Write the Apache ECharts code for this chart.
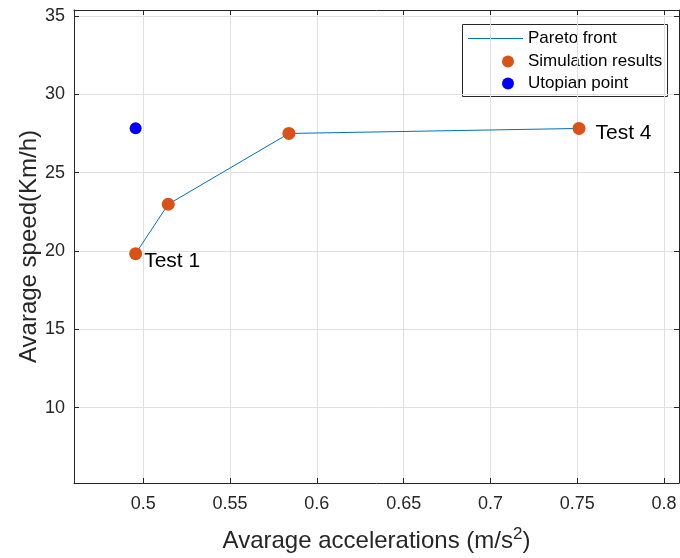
<!DOCTYPE html>
<html>
<head>
<meta charset="utf-8">
<script src="https://cdn.jsdelivr.net/npm/echarts@6/dist/echarts.min.js"></script>
<style>
  html, body { margin: 0; padding: 0; background: #fff; }
  #chart { width: 680px; height: 558px; }
</style>
</head>
<body>
<div id="chart"></div>
<script>
// Pareto front of the test runs: average acceleration vs average speed
const accel = [0.4956, 0.5144, 0.5839, 0.7510];
const speed = [19.83, 22.98, 27.50, 27.82];
const pointLabels = ['Test 1', '', '', 'Test 4'];
const utopian = [0.4956, 27.84];

const xTicks = [0.5, 0.55, 0.6, 0.65, 0.7, 0.75, 0.8];
const yTicks = [10, 15, 20, 25, 30, 35];

const seriesNames = ['Pareto front', 'Simulation results', 'Utopian point'];

const FONT = 'Liberation Sans, Arial, Helvetica, sans-serif';
const AXIS_COLOR = '#262626';
const GRID_COLOR = '#e0e0e0';

// label placement for the annotated points (keyed by point index)
const labelPlacement = {
  0: { distance: 2, offset: [0, 8] },
  3: { distance: 10, offset: [0, 5] }
};

const pts = accel.map((a, i) => [a, speed[i]]);

const scatterData = pts.map((p, i) => {
  const item = { value: p };
  if (pointLabels[i]) {
    item.label = Object.assign({
      show: true,
      position: 'right',
      formatter: pointLabels[i],
      color: '#000',
      fontSize: 21,
      fontFamily: FONT
    }, labelPlacement[i]);
  }
  return item;
});

function mainAxis(ticks, extra) {
  return Object.assign({
    type: 'value',
    axisLine: { show: true, onZero: false, lineStyle: { color: AXIS_COLOR, width: 1 } },
    axisTick: { show: true, inside: true, length: 5, customValues: ticks, lineStyle: { color: AXIS_COLOR } },
    axisLabel: { customValues: ticks, color: AXIS_COLOR, fontSize: 18, fontFamily: FONT },
    splitLine: { show: true, lineStyle: { color: GRID_COLOR, width: 1 } }
  }, extra);
}

function boxAxis(ticks, extra) {
  return Object.assign({
    type: 'value',
    axisLine: { show: true, onZero: false, lineStyle: { color: AXIS_COLOR, width: 1 } },
    axisTick: { show: true, inside: true, length: 5, customValues: ticks, lineStyle: { color: AXIS_COLOR } },
    axisLabel: { show: false, customValues: ticks },
    splitLine: { show: false }
  }, extra);
}

const xMin = 0.4601, xMax = 0.8086;
const yMin = 5.19, yMax = 35.38;

const chart = echarts.init(document.getElementById('chart'), null, { renderer: 'canvas' });

chart.setOption({
  animation: false,
  backgroundColor: '#fff',
  grid: { left: 74, right: 1, top: 10, bottom: 75, containLabel: false, outerBoundsMode: 'none' },
  xAxis: [
    mainAxis(xTicks, {
      position: 'bottom', min: xMin, max: xMax,
      axisLabel: { customValues: xTicks, color: AXIS_COLOR, fontSize: 18, fontFamily: FONT, margin: 12 },
      name: 'Avarage accelerations (m/s{sup|2})',
      nameLocation: 'middle',
      nameGap: 43,
      nameMoveOverlap: false,
      nameTextStyle: {
        color: AXIS_COLOR, fontSize: 24, fontFamily: FONT, lineHeight: 30,
        verticalAlign: 'top',
        rich: {
          sup: { fontSize: 17, fontFamily: FONT, color: AXIS_COLOR, verticalAlign: 'top', lineHeight: 30 }
        }
      }
    }),
    boxAxis(xTicks, { position: 'top', min: xMin, max: xMax })
  ],
  yAxis: [
    mainAxis(yTicks, {
      position: 'left', min: yMin, max: yMax,
      axisLabel: { customValues: yTicks, color: AXIS_COLOR, fontSize: 18, fontFamily: FONT, margin: 9 },
      name: 'Avarage speed(Km/h)',
      nameLocation: 'middle',
      nameGap: 33,
      nameMoveOverlap: false,
      nameTextStyle: { color: AXIS_COLOR, fontSize: 24, fontFamily: FONT }
    }),
    boxAxis(yTicks, { position: 'right', min: yMin, max: yMax })
  ],
  series: [
    {
      name: seriesNames[0],
      type: 'line',
      data: pts,
      showSymbol: false,
      lineStyle: { color: '#0072BD', width: 1 },
      itemStyle: { color: '#0072BD' },
      z: 2
    },
    {
      name: seriesNames[1],
      type: 'scatter',
      data: scatterData,
      symbol: 'circle',
      symbolSize: 13,
      itemStyle: { color: '#D95319', opacity: 1 },
      z: 3
    },
    {
      name: seriesNames[2],
      type: 'scatter',
      data: [utopian],
      symbol: 'circle',
      symbolSize: 12,
      itemStyle: { color: '#0000FF', opacity: 1 },
      z: 3
    }
  ],
  graphic: [
    {
      type: 'group',
      left: 462,
      top: 24,
      z: 100,
      children: [
        { type: 'rect', shape: { x: 0.5, y: 0.5, width: 205, height: 72 },
          style: { fill: '#fff', stroke: AXIS_COLOR, lineWidth: 1 } },
        { type: 'line', shape: { x1: 6, y1: 14.5, x2: 61, y2: 14.5 },
          style: { stroke: '#0072BD', lineWidth: 1 } },
        { type: 'circle', shape: { cx: 46, cy: 37.5, r: 6 }, style: { fill: '#D95319' } },
        { type: 'circle', shape: { cx: 46, cy: 59.5, r: 6 }, style: { fill: '#0000FF' } },
        { type: 'text', x: 66, y: 14.5, style: { text: seriesNames[0], fill: '#000', font: '17px ' + FONT, verticalAlign: 'middle' } },
        { type: 'text', x: 66, y: 37.5, style: { text: seriesNames[1], fill: '#000', font: '17px ' + FONT, verticalAlign: 'middle' } },
        { type: 'text', x: 66, y: 59.5, style: { text: seriesNames[2], fill: '#000', font: '17px ' + FONT, verticalAlign: 'middle' } }
      ]
    }
  ]
});
</script>
</body>
</html>
